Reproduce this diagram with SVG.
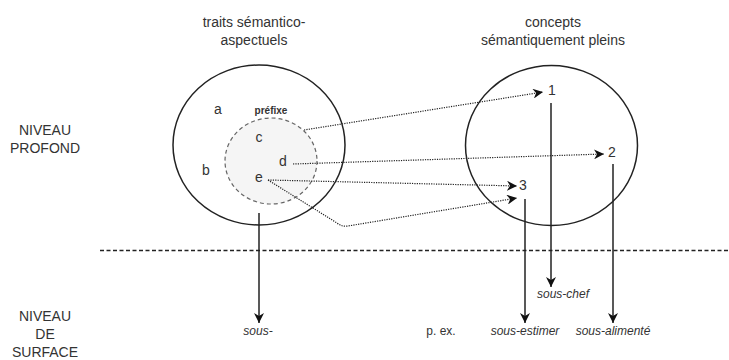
<svg xmlns="http://www.w3.org/2000/svg" width="729" height="360" viewBox="0 0 729 360">
  <style>
    text { font-family: "Liberation Sans", Arial, sans-serif; fill: #333; }
    .lbl { font-size: 14px; }
    .ex { font-size: 12px; font-style: italic; }
    .pre { font-size: 10px; font-weight: bold; }
    .set { fill: #fff; stroke: #222; stroke-width: 1.5; }
    .sub { fill: #f5f5f5; stroke: #666; stroke-width: 1.2; stroke-dasharray: 4 3; }
    .dot { fill: none; stroke: #222; stroke-width: 1.2; stroke-dasharray: 1.2 1.2; }
    .solid { fill: none; stroke: #222; stroke-width: 1.5; }
  </style>
  <defs>
    <marker id="arrow" markerUnits="userSpaceOnUse" markerWidth="11" markerHeight="10" refX="10" refY="5" orient="auto">
      <path d="M0,0 L10,5 L0,10 L3,5 Z" fill="#111"/>
    </marker>
  </defs>
  <rect width="729" height="360" fill="#fff"/>

  <!-- level labels -->
  <g id="level-deep">
    <text class="lbl" x="45" y="135" text-anchor="middle">NIVEAU</text>
    <text class="lbl" x="45" y="153" text-anchor="middle">PROFOND</text>
  </g>
  <g id="level-surface">
    <text class="lbl" x="45" y="321" text-anchor="middle">NIVEAU</text>
    <text class="lbl" x="45" y="339" text-anchor="middle">DE</text>
    <text class="lbl" x="45" y="357" text-anchor="middle">SURFACE</text>
  </g>

  <!-- column headings -->
  <g id="head-left">
    <text class="lbl" x="254" y="27" text-anchor="middle">traits sémantico-</text>
    <text class="lbl" x="254" y="45" text-anchor="middle">aspectuels</text>
  </g>
  <g id="head-right">
    <text class="lbl" x="553" y="27" text-anchor="middle">concepts</text>
    <text class="lbl" x="553" y="45" text-anchor="middle">sémantiquement pleins</text>
  </g>

  <!-- left set of features -->
  <g id="set-traits">
    <ellipse class="set" cx="259" cy="145" rx="86" ry="80"/>
    <text class="lbl" x="218" y="114" text-anchor="middle">a</text>
    <text class="lbl" x="206" y="175" text-anchor="middle">b</text>
  </g>
  <g id="set-prefixe">
    <ellipse class="sub" cx="271" cy="161" rx="46" ry="43"/>
    <text class="pre" x="271" y="114" text-anchor="middle">préfixe</text>
    <text class="lbl" x="259" y="142" text-anchor="middle">c</text>
    <text class="lbl" x="283" y="166" text-anchor="middle">d</text>
    <text class="lbl" x="259" y="182" text-anchor="middle">e</text>
  </g>

  <!-- right set of concepts -->
  <g id="set-concepts">
    <ellipse class="set" cx="551.5" cy="145.5" rx="86" ry="80"/>
    <text class="lbl" x="552" y="95" text-anchor="middle">1</text>
    <text class="lbl" x="612" y="157" text-anchor="middle">2</text>
    <text class="lbl" x="523" y="190" text-anchor="middle">3</text>
  </g>

  <!-- boundary between levels -->
  <line x1="100" y1="250.5" x2="729" y2="250.5" stroke="#222" stroke-width="1.5" stroke-dasharray="4 2.5"/>

  <!-- surface forms -->
  <g id="forms">
    <text class="ex" x="258" y="335" text-anchor="middle">sous-</text>
    <text class="ex" x="441" y="335" text-anchor="middle" style="font-style:normal">p. ex.</text>
    <text class="ex" x="525" y="335" text-anchor="middle">sous-estimer</text>
    <text class="ex" x="563" y="298" text-anchor="middle">sous-chef</text>
    <text class="ex" x="613" y="335" text-anchor="middle">sous-alimenté</text>
  </g>

  <!-- connectors -->
  <g id="connectors">
    <path class="dot" d="M304,130 L543,92" marker-end="url(#arrow)"/>
    <path class="dot" d="M293,164 L604,154" marker-end="url(#arrow)"/>
    <path class="dot" d="M268,180 L517,186" marker-end="url(#arrow)"/>
    <path class="dot" d="M268,180 L337,223 Q342,227 348,226 L517,198" marker-end="url(#arrow)"/>
    <path class="solid" d="M259,213 L259,323" marker-end="url(#arrow)"/>
    <path class="solid" d="M551,103 L551,287" marker-end="url(#arrow)"/>
    <path class="solid" d="M525,199 L525,323" marker-end="url(#arrow)"/>
    <path class="solid" d="M613,164 L613,323" marker-end="url(#arrow)"/>
  </g>
</svg>
